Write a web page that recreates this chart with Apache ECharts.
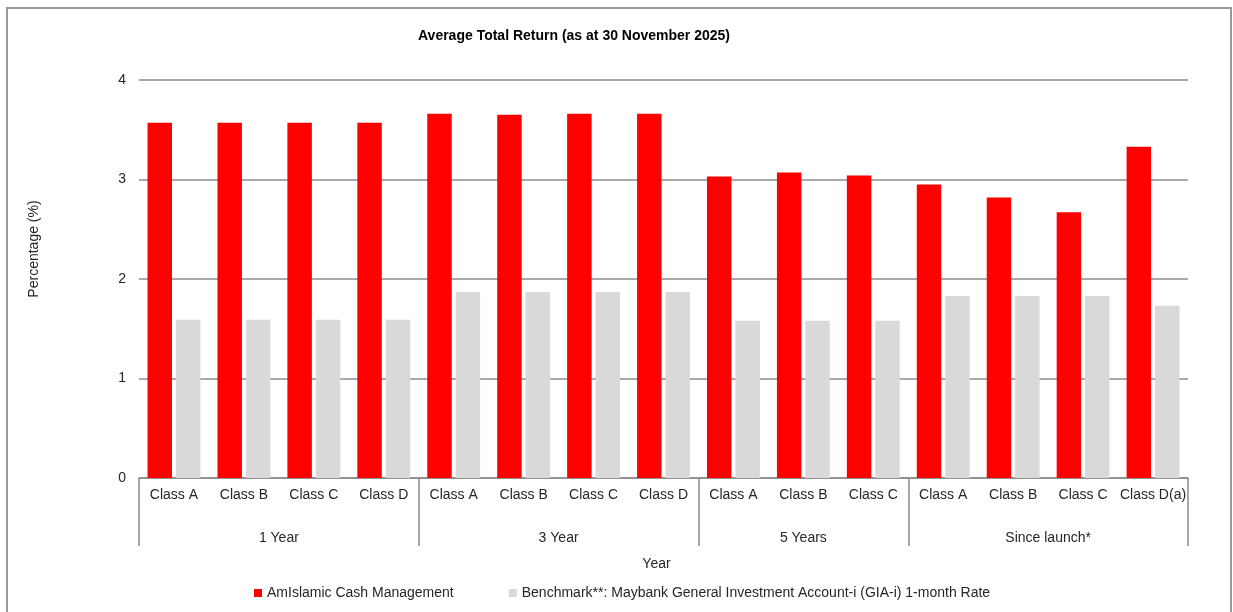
<!DOCTYPE html>
<html>
<head>
<meta charset="utf-8">
<script src="https://cdn.jsdelivr.net/npm/echarts@6/dist/echarts.min.js"></script>
<style>
html,body{margin:0;padding:0;background:#fff;}
#chart{width:1233px;height:612px;}
</style>
</head>
<body>
<div id="chart"></div>
<script>
var titleText = 'Average Total Return (as at 30 November 2025)';
var categories = ['Class A','Class B','Class C','Class D','Class A','Class B','Class C','Class D','Class A','Class B','Class C','Class A','Class B','Class C','Class D(a)'];
var groupNames = ['1 Year','3 Year','5 Years','Since launch*'];
var groupSizes = [4,4,3,4];
var fundName = 'AmIslamic Cash Management';
var benchName = 'Benchmark**: Maybank General Investment Account-i (GIA-i) 1-month Rate';
var fundValues = [3.57,3.57,3.57,3.57,3.66,3.65,3.66,3.66,3.03,3.07,3.04,2.95,2.82,2.67,3.33];
var benchValues = [1.59,1.59,1.59,1.59,1.87,1.87,1.87,1.87,1.58,1.58,1.58,1.83,1.83,1.83,1.73];
var yTicks = [0,1,2,3,4];

var boundaries = [0];
var centers = [];
groupSizes.forEach(function(s){
  var start = boundaries[boundaries.length-1];
  centers.push(start + s/2);
  boundaries.push(start + s);
});

var font = 'Liberation Sans, Arial, sans-serif';
var textColor = '#262626';
var lineColor = '#8c8c8c';

var chart = echarts.init(document.getElementById('chart'), null, {renderer:'canvas'});
chart.setOption({
  backgroundColor:'#fff',
  animation:false,
  textStyle:{fontFamily:font},
  title:{
    text:titleText,
    left:418, top:29, padding:0,
    textStyle:{fontFamily:font,fontSize:14,fontWeight:'bold',color:'#000'}
  },
  graphic:[{
    type:'rect',
    shape:{x:7,y:8,width:1224,height:620},
    style:{fill:'none',stroke:'#999',lineWidth:2},
    silent:true
  }],
  legend:{
    left:254, top:586, padding:0,
    itemWidth:8, itemHeight:8, itemGap:55,
    icon:'rect',
    textStyle:{fontFamily:font,fontSize:14,color:textColor},
    data:[fundName, benchName]
  },
  grid:{left:139,right:45,top:80,bottom:134,containLabel:false},
  xAxis:[{
    type:'category',
    data:categories,
    position:'bottom',
    axisLine:{show:false},
    axisTick:{show:false},
    axisLabel:{interval:0,margin:10,fontSize:14,color:textColor,fontFamily:font}
  },{
    type:'value',
    min:0, max:boundaries[boundaries.length-1],
    position:'bottom',
    name:'Year',
    nameLocation:'middle',
    nameGap:79,
    nameTextStyle:{fontSize:14,color:textColor,fontFamily:font,padding:[0,14,0,0]},
    axisLine:{show:true,lineStyle:{color:lineColor,width:1.5}},
    axisTick:{show:true,customValues:boundaries,length:68,inside:false,lineStyle:{color:lineColor,width:1.5}},
    axisLabel:{show:true,customValues:centers,margin:53,fontSize:14,color:textColor,fontFamily:font,
      formatter:function(v){ var i = centers.indexOf(v); return i>=0 ? groupNames[i] : ''; }},
    splitLine:{show:false}
  }],
  yAxis:{
    type:'value',
    min:yTicks[0], max:yTicks[yTicks.length-1], interval:1,
    name:'Percentage (%)',
    nameLocation:'middle',
    nameRotate:90,
    nameGap:98,
    nameTextStyle:{fontSize:14,color:textColor,fontFamily:font,padding:[0,0,0,60]},
    axisLine:{show:false},
    axisTick:{show:false},
    axisLabel:{margin:13,fontSize:14,color:textColor,fontFamily:font},
    splitLine:{show:true,lineStyle:{color:lineColor,width:1.5}}
  },
  series:[{
    name:fundName,
    type:'bar',
    xAxisIndex:0,
    data:fundValues,
    barWidth:'35%',
    barGap:'16%',
    itemStyle:{color:'#ff0000'}
  },{
    name:benchName,
    type:'bar',
    xAxisIndex:0,
    data:benchValues,
    barWidth:'35%',
    barGap:'16%',
    itemStyle:{color:'#d9d9d9'}
  }]
});
</script>
</body>
</html>
